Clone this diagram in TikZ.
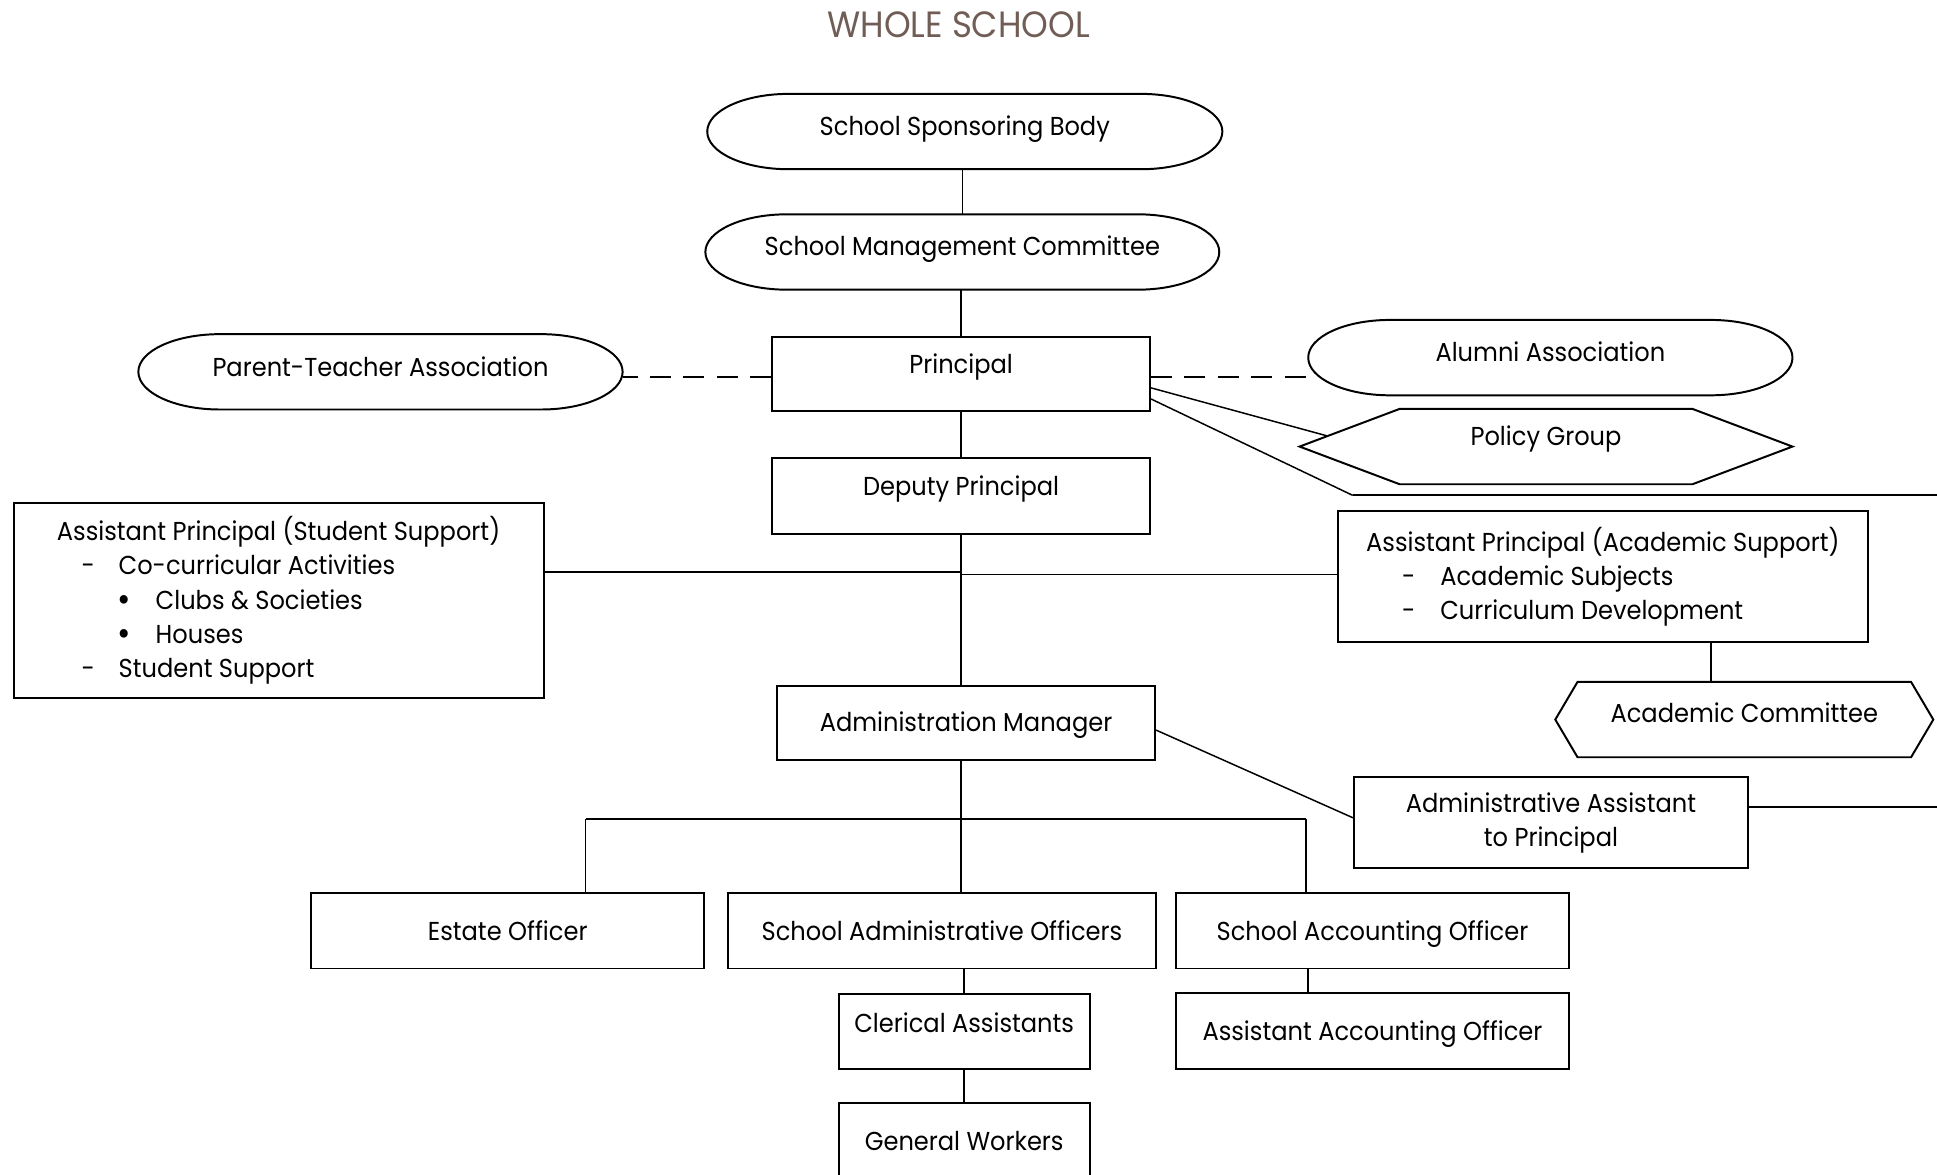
\documentclass[tikz,border=0pt]{standalone}
\usepackage{fontspec}
\setmainfont{Poppins}[FakeStretch=0.93]
\usetikzlibrary{calc}
\definecolor{titlebrown}{RGB}{112,94,86}
\tikzset{
  postbox/.style={draw,line width=0.8pt,inner sep=0pt,text height=7.5pt,text depth=0pt},
  bare/.style={inner sep=0pt,outer sep=0pt,text height=7.5pt,text depth=0pt},
  lift/.style={text depth=#1pt},
  link/.style={line width=0.6pt},
  heavy/.style={line width=0.9pt},
  assoc/.style={line width=0.7pt,dash pattern=on 8.5pt off 5pt},
}
\newcommand{\dotitem}{\smash{\raisebox{-0.9pt}{\scalebox{1.35}{\textbullet}}}}
\begin{document}
\begin{tikzpicture}[x=0.5pt,y=-0.5pt,font=\fontsize{10.5pt}{13.9pt}\selectfont]
\pgfmathsetmacro{\orx}{33}
\pgfmathsetmacro{\ory}{15.25}
\useasboundingbox (0,0) rectangle (1568,951);
\node[text=titlebrown,font=\fontsize{14.8pt}{16pt}\selectfont] (title) at (776,20) {WHOLE SCHOOL};
% governing bodies
\node[bare,minimum width=208.5pt,minimum height=30.5pt,lift=4.5] (sponsor) at (781,106.5) {School Sponsoring Body};
\node[bare,minimum width=208pt,minimum height=30.5pt,lift=5] (smc) at (779,204) {School Management Committee};
\node[bare,minimum width=196pt,minimum height=30.5pt,lift=4] (pta) at (308,301) {Parent-Teacher Association};
\node[bare,minimum width=196pt,minimum height=30.5pt,lift=4.5] (alumni) at (1255,289.5) {Alumni Association};
\foreach \n in {sponsor,smc,pta,alumni}{\draw[line width=0.8pt] ([xshift=\orx pt]\n.north west) -- ([xshift=-\orx pt]\n.north east) arc[start angle=90,end angle=-90,x radius=\orx pt,y radius=\ory pt] -- ([xshift=\orx pt]\n.south west) arc[start angle=270,end angle=90,x radius=\orx pt,y radius=\ory pt] -- cycle;}
% senior staff
\node[postbox,minimum width=153pt,minimum height=30pt,lift=8] (prin) at (778,303) {Principal};
\node[postbox,minimum width=153pt,minimum height=30.5pt,lift=7.5] (dep) at (778,401.5) {Deputy Principal};
\node[bare,minimum width=199.5pt,minimum height=30.5pt,lift=8.5] (policy) at (1251.5,361.5) {Policy Group};
\node[bare,minimum width=153pt,minimum height=30.5pt,lift=5.5] (acad) at (1412,582.5) {Academic Committee};
\foreach \n/\d in {policy/40.5,acad/9}{\draw[line width=0.8pt] (\n.west) -- ([xshift=\d pt]\n.north west) -- ([xshift=-\d pt]\n.north east) -- (\n.east) -- ([xshift=-\d pt]\n.south east) -- ([xshift=\d pt]\n.south west) -- cycle;}
\node[draw,line width=0.8pt,inner sep=0pt,minimum width=214.5pt,minimum height=79pt,align=left] (aps) at (225.5,486) {Assistant Principal (Student Support)\\
\hspace*{10pt}\makebox[15pt][l]{-}Co-curricular Activities\\
\hspace*{24.5pt}\makebox[15.5pt][l]{\dotitem}Clubs \& Societies\\
\hspace*{24.5pt}\makebox[15.5pt][l]{\dotitem}Houses\\
\hspace*{10pt}\makebox[15pt][l]{-}Student Support};
\node[draw,line width=0.8pt,inner sep=0pt,minimum width=214.5pt,minimum height=53pt,align=left] (apa) at (1297.5,467) {Assistant Principal (Academic Support)\\
\hspace*{14.5pt}\makebox[15.5pt][l]{-}Academic Subjects\\
\hspace*{14.5pt}\makebox[15.5pt][l]{-}Curriculum Development};
% administration
\node[postbox,minimum width=153pt,minimum height=30pt] (adm) at (782,585) {Administration Manager};
\node[draw,line width=0.8pt,inner sep=0pt,minimum width=159.5pt,minimum height=37pt,align=center] (aap) at (1255.5,666) {Administrative Assistant\\to Principal};
\node[postbox,minimum width=159pt,minimum height=30.5pt] (est) at (411,753.5) {Estate Officer};
\node[postbox,minimum width=173.5pt,minimum height=30.5pt] (sao) at (762.5,753.5) {School Administrative Officers};
\node[postbox,minimum width=159pt,minimum height=30.5pt] (acc) at (1111,753.5) {School Accounting Officer};
\node[postbox,minimum width=101.5pt,minimum height=30pt,lift=7] (cler) at (780.5,835) {Clerical Assistants};
\node[postbox,minimum width=159pt,minimum height=30.5pt] (aao) at (1111,834.5) {Assistant Accounting Officer};
\node[postbox,minimum width=101.5pt,minimum height=30.5pt] (gw) at (780.5,923.5) {General Workers};
% connectors
\coordinate (pbend) at (1095,401);
\coordinate (pedge) at (1568,401);
\coordinate (pgin) at ($(policy.west)!0.28!([xshift=40.5pt]policy.north west)$);
\coordinate (jss) at (778,463);
\coordinate (jas) at (778,465);
\coordinate (aedge) at (1568,653);
\coordinate (busl) at (474,663);
\coordinate (busm) at (778,663);
\coordinate (busr) at (1057,663);
\draw[link] (smc.north |- sponsor.south) -- (smc.north);
\draw[link] (prin.north |- smc.south) -- (prin.north);
\draw[link] (prin.south) -- (dep.north);
\draw[assoc] ([yshift=-1pt]prin.west) -- ([yshift=-1pt]prin.west -| pta.east);
\draw[assoc] ([yshift=-1pt]prin.east) -- ([xshift=1.5pt,yshift=-1pt]alumni.west |- prin.east);
\draw[link] ([yshift=-5.5pt]prin.east) -- (pgin);
\draw[link] ([yshift=-10pt]prin.east) -- (pbend);
\draw[heavy] (pbend) -- (pedge);
\draw[link] (dep.south) -- (dep.south |- adm.north);
\draw[link] (aps.east |- jss) -- (jss);
\draw[link] (jas) -- (apa.west |- jas);
\draw[link] ([xshift=43.75pt]apa.south) -- ([xshift=43.75pt]apa.south |- acad.north);
\draw[link] ([yshift=-3pt]adm.east) -- ([yshift=2pt]aap.west);
\draw[heavy] (aap.east |- aedge) -- (aedge);
\draw[link] (busm |- adm.south) -- (busm |- sao.north);
\draw[heavy] (busl) -- (busr);
\draw[link] (busl |- est.north) -- (busl);
\draw[link] (busr) -- (busr |- acc.north);
\draw[link] (cler.north |- sao.south) -- (cler.north);
\draw[link] (cler.south) -- (gw.north);
\draw[link] ([xshift=-26pt]acc.south) -- ([xshift=-26pt]aao.north);
\end{tikzpicture}
\end{document}
